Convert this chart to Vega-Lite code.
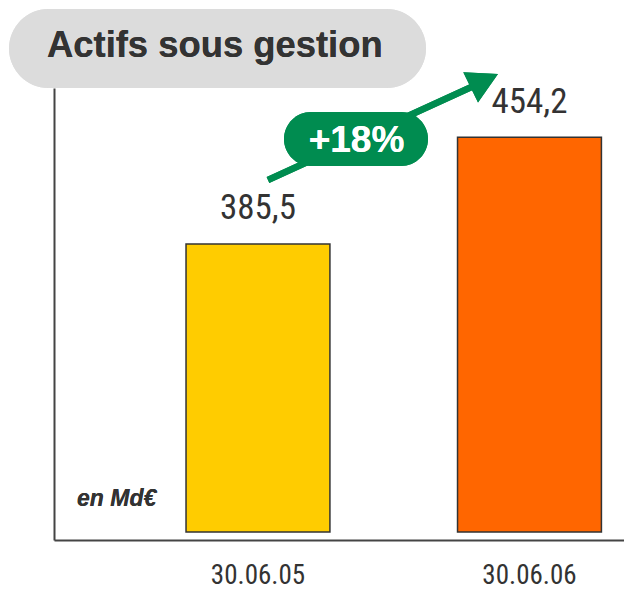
{
  "$schema": "https://vega.github.io/schema/vega-lite/v6.json",
  "width": 570,
  "height": 452,
  "autosize": {"type": "none"},
  "padding": {"left": 54, "top": 88, "right": 0, "bottom": 49},
  "background": "white",
  "config": {"view": {"stroke": null}},
  "data": {"values": [
    {"date": "30.06.05", "value": 385.5, "label": "385,5"},
    {"date": "30.06.06", "value": 454.2, "label": "454,2"}
  ]},
  "resolve": {"scale": {"x": "independent"}},
  "layer": [
    {
      "mark": {"type": "rect", "cornerRadius": 39.5, "fill": "#dcdcdc"},
      "encoding": {
        "x": {"datum": -7.89, "type": "quantitative", "scale": {"domain": [0, 100]}, "axis": null},
        "x2": {"datum": 65.26},
        "y": {"datum": 536.9, "type": "quantitative"},
        "y2": {"datum": 486.0}
      }
    },
    {
      "mark": {"type": "bar", "stroke": "#333333", "strokeWidth": 1.5},
      "encoding": {
        "x": {"field": "date", "type": "nominal", "sort": null,
          "scale": {"type": "band", "paddingInner": 0.47, "paddingOuter": 0.2847, "align": 0.854},
          "axis": {"title": null, "ticks": false, "domainColor": "#444444", "domainWidth": 2,
            "labelAngle": 0, "labelFont": "'Roboto Condensed', 'DejaVu Sans Condensed', 'Liberation Sans Narrow', 'Open Sans Condensed', Roboto, sans-serif", "labelFontSize": 27,
            "labelColor": "#333333", "labelPadding": 22}},
        "y": {"field": "value", "type": "quantitative",
          "scale": {"domain": [194.85, 485.97], "nice": false, "zero": false},
          "axis": {"title": null, "ticks": false, "labels": false, "grid": false,
            "domainColor": "#444444", "domainWidth": 2}},
        "y2": {"datum": 200},
        "color": {"field": "date", "type": "nominal",
          "scale": {"domain": ["30.06.05", "30.06.06"], "range": ["#FFCC00", "#FF6600"]},
          "legend": null}
      }
    },
    {
      "mark": {"type": "text", "dy": -24.5, "baseline": "alphabetic", "align": "center",
        "font": "'Roboto Condensed', 'DejaVu Sans Condensed', 'Liberation Sans Narrow', 'Open Sans Condensed', Roboto, sans-serif", "fontSize": 35, "color": "#333333"},
      "encoding": {
        "x": {"field": "date", "type": "nominal", "sort": null, "bandPosition": 0.5,
          "scale": {"type": "band", "paddingInner": 0.47, "paddingOuter": 0.2847, "align": 0.854}, "axis": null},
        "y": {"field": "value", "type": "quantitative"},
        "text": {"field": "label"}
      }
    },
    {
      "mark": {"type": "text", "text": "Actifs sous gestion", "align": "left", "baseline": "alphabetic",
        "font": "Liberation Sans", "fontWeight": "bold", "fontSize": 36.4, "color": "#333333"},
      "encoding": {
        "x": {"datum": -1.23, "type": "quantitative", "scale": {"domain": [0, 100]}, "axis": null},
        "y": {"datum": 505.9, "type": "quantitative"}
      }
    },
    {
      "mark": {"type": "rule", "color": "#008C50", "strokeWidth": 6.5, "strokeCap": "butt"},
      "encoding": {
        "x": {"datum": 37.54, "type": "quantitative", "scale": {"domain": [0, 100]}, "axis": null},
        "x2": {"datum": 74.39},
        "y": {"datum": 426.7, "type": "quantitative"},
        "y2": {"datum": 488.5}
      }
    },
    {
      "mark": {"type": "point", "shape": "M0,0L-1.9,-1.05L-1.9,1.05Z", "filled": true, "opacity": 1,
        "size": 1024, "angle": 334, "color": "#008C50", "strokeWidth": 0},
      "encoding": {
        "x": {"datum": 77.89, "type": "quantitative", "scale": {"domain": [0, 100]}, "axis": null},
        "y": {"datum": 495.0, "type": "quantitative"}
      }
    },
    {
      "mark": {"type": "rect", "cornerRadius": 27, "fill": "#008C50"},
      "encoding": {
        "x": {"datum": 40.35, "type": "quantitative", "scale": {"domain": [0, 100]}, "axis": null},
        "x2": {"datum": 65.61},
        "y": {"datum": 470.5, "type": "quantitative"},
        "y2": {"datum": 435.7}
      }
    },
    {
      "mark": {"type": "text", "text": "+18%", "align": "center", "baseline": "alphabetic",
        "font": "Liberation Sans", "fontWeight": "bold", "fontSize": 37, "color": "white"},
      "encoding": {
        "x": {"datum": 53.07, "type": "quantitative", "scale": {"domain": [0, 100]}, "axis": null},
        "y": {"datum": 444.8, "type": "quantitative"}
      }
    },
    {
      "mark": {"type": "text", "text": "en Md€", "align": "left", "baseline": "alphabetic",
        "font": "Liberation Sans", "fontWeight": "bold", "fontStyle": "italic", "fontSize": 23, "color": "#333333"},
      "encoding": {
        "x": {"datum": 4.04, "type": "quantitative", "scale": {"domain": [0, 100]}, "axis": null},
        "y": {"datum": 216.7, "type": "quantitative"}
      }
    }
  ]
}
